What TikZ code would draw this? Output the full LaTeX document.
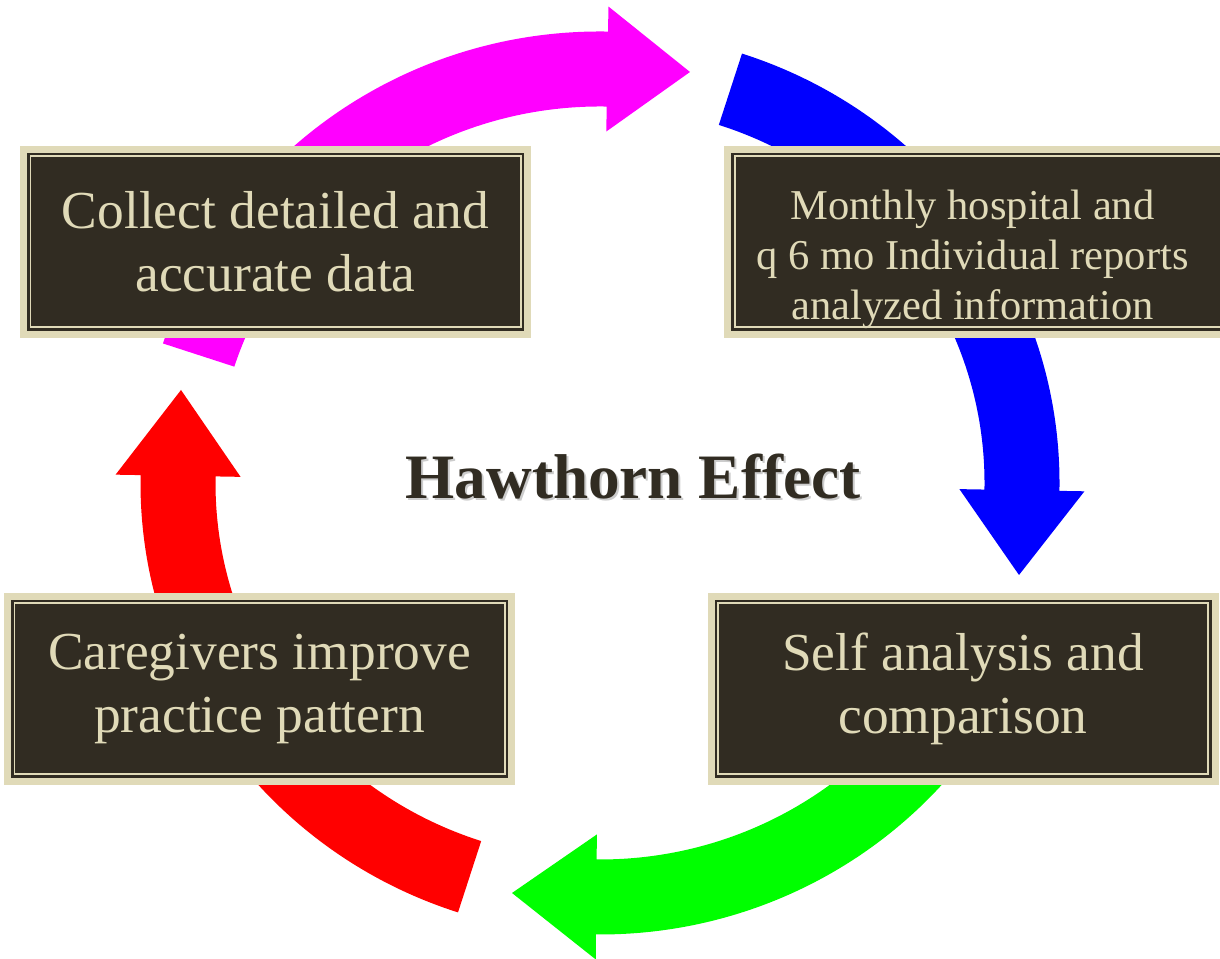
\documentclass[tikz,border=0pt]{standalone}
\usepackage{fontspec}
\setmainfont{Liberation Serif}
\definecolor{boxdark}{HTML}{312C22}
\definecolor{boxbeige}{HTML}{E0DAB8}
\definecolor{loopmagenta}{RGB}{255,0,255}
\definecolor{loopblue}{RGB}{0,0,255}
\definecolor{loopgreen}{RGB}{0,255,0}
\definecolor{loopred}{RGB}{255,0,0}

\begin{document}
\begin{tikzpicture}
\tikzstyle{stage}=[rectangle,inner sep=0pt,minimum width=10.08cm,minimum height=3.70cm,
  fill=boxdark,draw=boxbeige,line width=0.14cm,text=boxbeige,align=center,
  font=\fontsize{30.4}{36}\selectfont,
  path picture={\draw[boxbeige,line width=0.04cm]
    ([shift={(0.14,0.14)}]path picture bounding box.south west) rectangle
    ([shift={(-0.14,-0.14)}]path picture bounding box.north east);}]
\tikzstyle{heading}=[font=\fontsize{36}{40}\selectfont\bfseries]
\useasboundingbox (0,0) rectangle (24.4,19.18);
% the four arrows of the cycle
\begin{scope}[shift={(12,9.52)}]
\foreach \col/\a/\b/\tx/\ty in {loopmagenta/162/89/1.8/8.22, loopblue/72/-1/8.38/-1.84,
                                loopgreen/-18/-90.5/-1.76/-8.2, loopred/-108/-181/-8.38/1.86}
{
  \fill[\col] (\a:9.19cm and 9.03cm)
    arc[start angle=\a,end angle=\b,x radius=9.19cm,y radius=9.03cm]
    -- (\b:9.69cm and 9.53cm) -- (\tx,\ty) -- (\b:7.19cm and 7.03cm)
    -- (\b:7.69cm and 7.53cm)
    arc[start angle=\b,end angle=\a,x radius=7.69cm,y radius=7.53cm] -- cycle;
}
\end{scope}
% boxes
\node[stage] (collect) at (5.51,14.34) {Collect detailed and\\accurate data};
\node[stage,font=\fontsize{24.2}{28.5}\selectfont] (monthly) at (19.59,14.34)
  {\raisebox{-0.57cm}[0pt][0pt]{\kern-0.28cm\begin{tabular}{@{}c@{}}Monthly hospital and\\
   q 6 mo Individual reports\\ analyzed information\end{tabular}}};
\node[stage] (selfcheck) at (19.26,5.40) {Self analysis and\\comparison};
\node[stage] (improve) at (5.19,5.40) {Caregivers improve\\practice pattern};
% title
\node[heading,text=black!40,opacity=0.5] (titleshadow) at (12.70,9.60) {Hawthorn Effect};
\node[heading,text=boxdark] (title) at (12.66,9.65) {Hawthorn Effect};
\end{tikzpicture}
\end{document}
